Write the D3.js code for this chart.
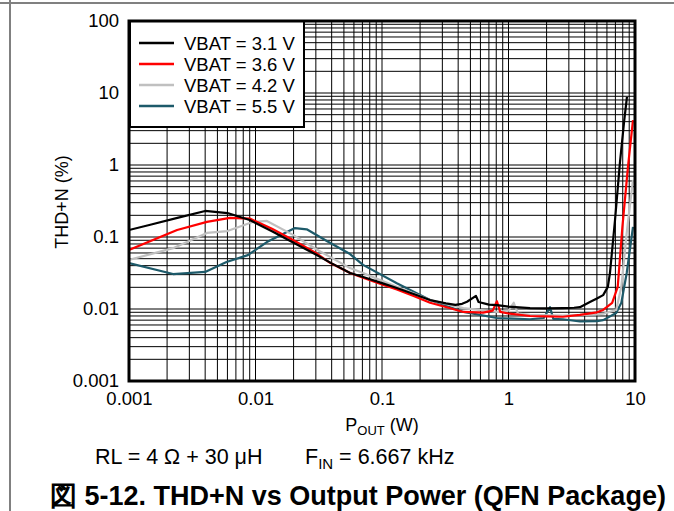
<!DOCTYPE html>
<html>
<head>
<meta charset="utf-8">
<script src="https://cdn.jsdelivr.net/npm/d3@7"></script>
<style>
  html, body { margin: 0; padding: 0; background: #fff; }
  svg { display: block; }
  text { font-family: "Liberation Sans", Arial, sans-serif; fill: #000; }
</style>
</head>
<body>
<div id="chart"></div>
<script>
// ---------- data ----------
const seriesNames = ["VBAT = 3.1 V", "VBAT = 3.6 V", "VBAT = 4.2 V", "VBAT = 5.5 V"];
const seriesColors = ["#000000", "#ff0000", "#c0c0c0", "#1d5a6a"];

const p31 = [0.001, 0.0015, 0.0025, 0.004, 0.006, 0.009, 0.0135, 0.02, 0.03, 0.04, 0.056, 0.071, 0.1, 0.131, 0.18, 0.24, 0.32, 0.38, 0.43, 0.47, 0.553, 0.58, 0.7, 0.81, 1.0, 1.48, 2.0, 2.69, 3.3, 3.67, 4.4, 5.0, 5.6, 6.1, 6.34, 6.95, 7.6, 8.2, 8.64];
const thd31 = [0.125, 0.149, 0.187, 0.23, 0.215, 0.172, 0.12, 0.083, 0.057, 0.043, 0.0316, 0.0278, 0.0229, 0.0196, 0.016, 0.0133, 0.012, 0.0114, 0.0118, 0.0126, 0.0152, 0.0125, 0.0115, 0.0113, 0.0108, 0.0103, 0.0102, 0.0103, 0.0104, 0.0106, 0.0125, 0.014, 0.0156, 0.0203, 0.0316, 0.172, 1.07, 4.0, 8.8];

const p36 = [0.001, 0.0024, 0.00413, 0.00628, 0.009, 0.0135, 0.0198, 0.03, 0.0388, 0.0559, 0.0708, 0.1, 0.131, 0.18, 0.24, 0.33, 0.44, 0.63, 0.75, 0.81, 0.86, 1.02, 1.48, 2.0, 2.69, 3.67, 5.0, 5.6, 6.6, 7.3, 7.95, 8.8, 9.64];
const thd36 = [0.066, 0.125, 0.162, 0.184, 0.18, 0.13, 0.091, 0.06, 0.0438, 0.0316, 0.0272, 0.022, 0.0187, 0.015, 0.0122, 0.0105, 0.0091, 0.0089, 0.0095, 0.0128, 0.0091, 0.0086, 0.008, 0.0079, 0.0078, 0.0083, 0.009, 0.0097, 0.0122, 0.0203, 0.138, 0.94, 4.2];

const p42 = [0.001, 0.00223, 0.00413, 0.006, 0.0095, 0.0123, 0.0198, 0.03, 0.0388, 0.0559, 0.0708, 0.131, 0.24, 0.44, 0.81, 1.0, 1.1, 1.19, 1.48, 2.69, 5.0, 5.6, 7.1, 7.8, 8.6, 9.64];
const thd42 = [0.048, 0.07, 0.114, 0.121, 0.162, 0.167, 0.107, 0.068, 0.0529, 0.037, 0.0316, 0.0203, 0.0133, 0.0103, 0.0091, 0.0095, 0.0122, 0.0086, 0.0083, 0.0081, 0.0084, 0.0086, 0.0097, 0.0203, 0.114, 0.62];

const p55 = [0.001, 0.00223, 0.004, 0.0059, 0.0087, 0.0123, 0.0205, 0.0254, 0.0366, 0.0559, 0.0708, 0.131, 0.24, 0.44, 0.81, 1.48, 1.9, 2.13, 2.26, 2.69, 3.67, 5.0, 5.6, 7.1, 7.8, 8.6, 9.64];
const thd55 = [0.0435, 0.0306, 0.0327, 0.045, 0.056, 0.085, 0.133, 0.128, 0.088, 0.058, 0.041, 0.0228, 0.0133, 0.0091, 0.0075, 0.0072, 0.0075, 0.0106, 0.0073, 0.0072, 0.0067, 0.0068, 0.007, 0.0088, 0.0122, 0.0316, 0.138];

const xTickValues = [0.001, 0.01, 0.1, 1, 10];
const xTickLabels = ["0.001", "0.01", "0.1", "1", "10"];
const yTickValues = [0.001, 0.01, 0.1, 1, 10, 100];
const yTickLabels = ["0.001", "0.01", "0.1", "1", "10", "100"];

// ---------- layout ----------
const W = 674, H = 511;
const plot = { left: 129, right: 635, top: 21, bottom: 381 };

const svg = d3.select("#chart").append("svg").attr("width", W).attr("height", H);

// page frame
svg.append("line").attr("x1", 0).attr("x2", W).attr("y1", 3).attr("y2", 3)
  .attr("stroke", "#808080").attr("stroke-width", 2);
svg.append("line").attr("x1", 10).attr("x2", 10).attr("y1", 0).attr("y2", H)
  .attr("stroke", "#808080").attr("stroke-width", 2);

const x = d3.scaleLog().domain([0.001, 10]).range([plot.left, plot.right]);
const y = d3.scaleLog().domain([0.001, 100]).range([plot.bottom, plot.top]);

// grid
const grid = svg.append("g");
const minorVals = (lo, hi) => {
  const out = [];
  for (let e = Math.round(Math.log10(lo)); e < Math.round(Math.log10(hi)); e++) {
    for (let k = 1; k <= 9; k++) out.push(k * Math.pow(10, e));
  }
  out.push(hi);
  return out;
};
grid.selectAll("line.v").data(minorVals(0.001, 10)).enter().append("line")
  .attr("x1", d => x(d)).attr("x2", d => x(d))
  .attr("y1", plot.top).attr("y2", plot.bottom)
  .attr("stroke", "#000").attr("stroke-width", 1);
grid.selectAll("line.h").data(minorVals(0.001, 100)).enter().append("line")
  .attr("y1", d => y(d)).attr("y2", d => y(d))
  .attr("x1", plot.left).attr("x2", plot.right)
  .attr("stroke", "#000").attr("stroke-width", 1);

// clip
svg.append("clipPath").attr("id", "clip").append("rect")
  .attr("x", plot.left).attr("y", plot.top)
  .attr("width", plot.right - plot.left).attr("height", plot.bottom - plot.top);

// series
const series = [
  { p: p31, t: thd31 },
  { p: p36, t: thd36 },
  { p: p42, t: thd42 },
  { p: p55, t: thd55 }
];
const line = d3.line().x(d => x(d[0])).y(d => y(d[1]));
const lines = svg.append("g").attr("clip-path", "url(#clip)");
[3, 2, 1, 0].forEach(i => {
  const s = series[i];
  lines.append("path")
    .attr("d", line(s.p.map((v, j) => [v, s.t[j]])))
    .attr("fill", "none")
    .attr("stroke", seriesColors[i])
    .attr("stroke-width", 2.2)
    .attr("stroke-linejoin", "round");
});

// legend
const lg = svg.append("g");
lg.append("rect").attr("x", 130).attr("y", 21).attr("width", 174).attr("height", 106)
  .attr("fill", "#fff").attr("stroke", "#000").attr("stroke-width", 2);
seriesNames.forEach((n, i) => {
  const cy = 43 + i * 21;
  lg.append("line").attr("x1", 139).attr("x2", 174).attr("y1", cy).attr("y2", cy)
    .attr("stroke", seriesColors[i]).attr("stroke-width", 2.5);
  lg.append("text").attr("x", 184).attr("y", cy).attr("dy", "0.36em")
    .attr("font-size", 18.5).text(n);
});

// border
svg.append("rect").attr("x", plot.left).attr("y", plot.top)
  .attr("width", plot.right - plot.left).attr("height", plot.bottom - plot.top)
  .attr("fill", "none").attr("stroke", "#000").attr("stroke-width", 3);

// axes labels
const xAxis = d3.axisBottom(x).tickValues(xTickValues).tickFormat((d, i) => xTickLabels[i]).tickSize(0).tickPadding(11);
const gx = svg.append("g").attr("transform", `translate(0,${plot.bottom})`).call(xAxis);
gx.select(".domain").remove();
gx.selectAll("text").attr("font-size", 18.5).attr("font-family", "Liberation Sans, Arial, sans-serif").attr("fill", "#000");

const yAxis = d3.axisLeft(y).tickValues(yTickValues).tickFormat((d, i) => yTickLabels[i]).tickSize(0).tickPadding(10);
const gy = svg.append("g").attr("transform", `translate(${plot.left},0)`).call(yAxis);
gy.select(".domain").remove();
gy.selectAll("text").attr("font-size", 18.5).attr("font-family", "Liberation Sans, Arial, sans-serif").attr("fill", "#000");

// axis titles
const xt = svg.append("text").attr("x", 382).attr("y", 431).attr("text-anchor", "middle").attr("font-size", 18);
xt.append("tspan").text("P");
xt.append("tspan").attr("font-size", 13).attr("dy", 4).text("OUT");
xt.append("tspan").attr("dy", -4).text(" (W)");

svg.append("text").attr("transform", "translate(68,202) rotate(-90)")
  .attr("text-anchor", "middle").attr("font-size", 18).text("THD+N (%)");

svg.append("text").attr("x", 95).attr("y", 464).attr("font-size", 21.5).text("RL = 4 Ω + 30 μH");
const ft = svg.append("text").attr("x", 305).attr("y", 464).attr("font-size", 21.5);
ft.append("tspan").text("F");
ft.append("tspan").attr("font-size", 15).attr("dy", 5).text("IN");
ft.append("tspan").attr("dy", -5).text(" = 6.667 kHz");

svg.append("text").attr("x", 50).attr("y", 505).attr("font-size", 27).attr("font-weight", "bold")
  .text("図 5-12. THD+N vs Output Power (QFN Package)");
</script>
</body>
</html>
